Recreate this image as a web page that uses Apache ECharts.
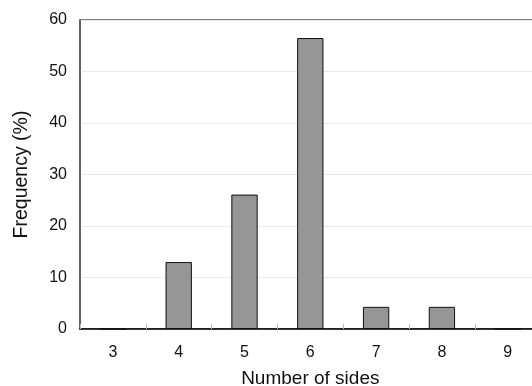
<!DOCTYPE html>
<html>
<head>
<meta charset="utf-8">
<script src="https://cdn.jsdelivr.net/npm/echarts@6/dist/echarts.min.js"></script>
<style>html,body{margin:0;padding:0;background:#fff;}#c{width:532px;height:386px;}</style>
</head>
<body>
<div id="c"></div>
<script>
const categories = ['3', '4', '5', '6', '7', '8', '9'];
const frequency = [0, 13.0, 26.1, 56.5, 4.3, 4.3, 0];
const yTicks = [0, 10, 20, 30, 40, 50, 60];

const chart = echarts.init(document.getElementById('c'), null, {renderer: 'canvas'});
const font = 'Arial, "Liberation Sans", sans-serif';
chart.setOption({
  animation: false,
  backgroundColor: '#fff',
  grid: {left: 80, top: 20, right: -8.6, bottom: 57, outerBoundsMode: 'none', containLabel: false,
         show: true, borderColor: '#555', borderWidth: 1.5, backgroundColor: 'transparent'},
  xAxis: {
    type: 'category',
    data: categories,
    name: 'Number of sides',
    nameLocation: 'middle',
    nameGap: 40,
    nameTextStyle: {fontFamily: font, fontSize: 19, color: '#111'},
    axisLine: {lineStyle: {color: '#000', width: 1.5}},
    axisTick: {show: true, inside: true, length: 5, lineStyle: {color: '#bbb'}},
    axisLabel: {fontFamily: font, fontSize: 16, color: '#111', margin: 16},
    splitLine: {show: false}
  },
  yAxis: {
    type: 'value',
    min: yTicks[0],
    max: yTicks[yTicks.length - 1],
    interval: 10,
    name: 'Frequency (%)',
    nameLocation: 'middle',
    nameGap: 48,
    nameTextStyle: {fontFamily: font, fontSize: 19.5, color: '#111'},
    axisLine: {show: true, lineStyle: {color: '#555', width: 1.5}},
    axisTick: {show: false},
    axisLabel: {fontFamily: font, fontSize: 16, color: '#111', margin: 13},
    splitLine: {show: true, lineStyle: {color: '#e8e8e8', width: 1}}
  },
  series: [{
    type: 'bar',
    data: frequency,
    barWidth: '40%',
    itemStyle: {color: '#969696', borderColor: '#111', borderWidth: 1}
  }]
});
</script>
</body>
</html>
